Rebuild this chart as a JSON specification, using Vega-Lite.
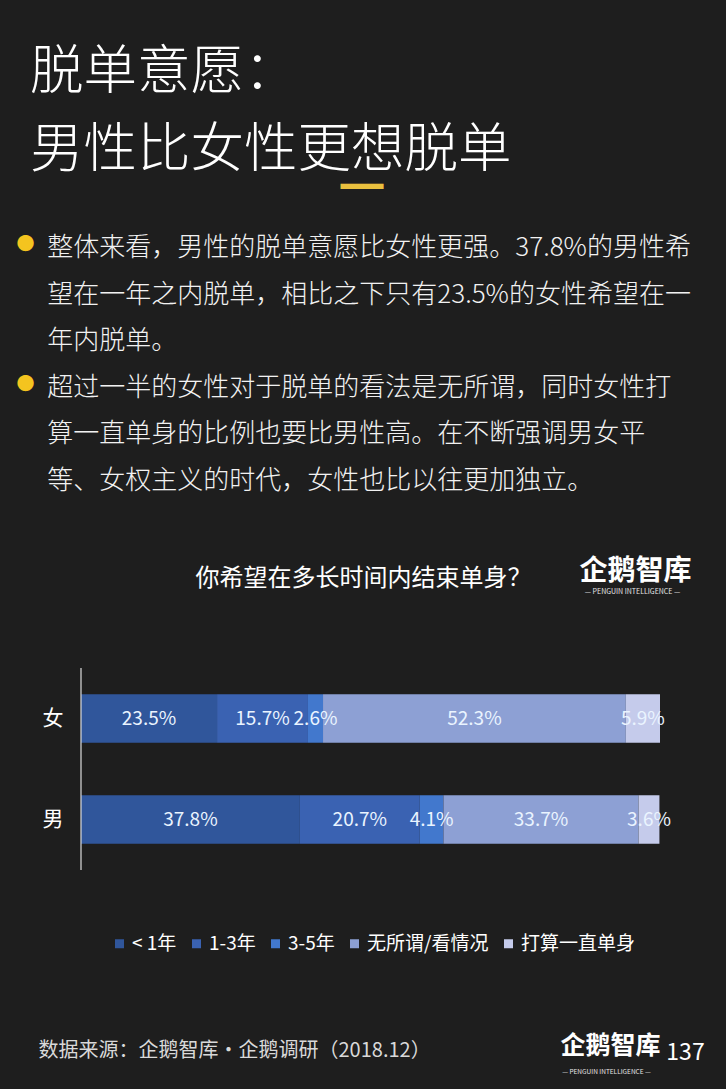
{
  "$schema": "https://vega.github.io/schema/vega-lite/v6.json",
  "autosize": {"type": "none"},
  "width": 579,
  "height": 202,
  "padding": {"left": 81, "top": 668, "right": 66, "bottom": 219},
  "background": "#1e1e1e",
  "config": {
    "view": {"stroke": null},
    "font": "Noto Sans CJK SC",
    "axis": {"grid": false, "labels": false, "ticks": false, "domain": false, "titleFont": "Noto Sans CJK SC", "titleFontWeight": "normal", "titleAngle": 0, "titleBaseline": "middle"}
  },
  "title": {
    "text": ["脱单意愿：", "男性比女性更想脱单"],
    "subtitle": [
      "\u200b\u2002\u2006整体来看，男性的脱单意愿比女性更强。37.8%的男性希",
      "\u200b\u2002\u2006望在一年之内脱单，相比之下只有23.5%的女性希望在一",
      "\u200b\u2002\u2006年内脱单。",
      "\u200b\u2002\u2006超过一半的女性对于脱单的看法是无所谓，同时女性打",
      "\u200b\u2002\u2006算一直单身的比例也要比男性高。在不断强调男女平",
      "\u200b\u2002\u2006等、女权主义的时代，女性也比以往更加独立。"
    ],
    "orient": "top",
    "anchor": "start",
    "frame": "group",
    "dx": -51,
    "offset": -327,
    "font": "Noto Sans CJK SC",
    "fontSize": 53.5,
    "fontWeight": 300,
    "color": "#ffffff",
    "lineHeight": 78,
    "subtitleFont": "Noto Sans CJK SC",
    "subtitleFontSize": 26,
    "subtitleFontWeight": 300,
    "subtitleLineHeight": 46.6,
    "subtitleColor": "#f2f2f2",
    "subtitlePadding": 57
  },
  "data": {
    "values": [
      {"gender": "女", "category": "< 1年", "rank": 1, "value": 23.5, "label": "23.5%"},
      {"gender": "女", "category": "1-3年", "rank": 2, "value": 15.7, "label": "15.7%"},
      {"gender": "女", "category": "3-5年", "rank": 3, "value": 2.6, "label": "2.6%"},
      {"gender": "女", "category": "无所谓/看情况", "rank": 4, "value": 52.3, "label": "52.3%"},
      {"gender": "女", "category": "打算一直单身", "rank": 5, "value": 5.9, "label": "5.9%"},
      {"gender": "男", "category": "< 1年", "rank": 1, "value": 37.8, "label": "37.8%"},
      {"gender": "男", "category": "1-3年", "rank": 2, "value": 20.7, "label": "20.7%"},
      {"gender": "男", "category": "3-5年", "rank": 3, "value": 4.1, "label": "4.1%"},
      {"gender": "男", "category": "无所谓/看情况", "rank": 4, "value": 33.7, "label": "33.7%"},
      {"gender": "男", "category": "打算一直单身", "rank": 5, "value": 3.6, "label": "3.6%"}
    ]
  },
  "resolve": {"axis": {"x": "independent", "y": "independent"}},
  "layer": [
    {
      "transform": [{"filter": "datum.gender == '女'"}],
      "mark": {"type": "bar"},
      "encoding": {
        "y": {
          "field": "gender",
          "type": "nominal",
          "sort": ["女", "男"],
          "scale": {"domain": ["女", "男"], "paddingInner": 0.52, "paddingOuter": 0.26},
          "axis": {
            "orient": "left",
            "labels": true,
            "labelColor": "#ffffff",
            "labelFontSize": 21,
            "labelPadding": 18,
            "labelFont": "Noto Sans CJK SC",
            "title": "你希望在多长时间内结束单身？",
            "titleX": 282,
            "titleY": -90,
            "titleAlign": "center",
            "titleFontSize": 24,
            "titleColor": "#ffffff"
          }
        },
        "x": {
          "field": "value",
          "type": "quantitative",
          "stack": "zero",
          "scale": {"domain": [0, 100], "nice": false, "zero": true},
          "axis": {
            "orient": "bottom",
            "title": "数据来源：企鹅智库·企鹅调研（2018.12）",
            "titleX": -43,
            "titleY": 180,
            "titleAlign": "left",
            "titleFontSize": 20,
            "titleColor": "#d9d9d9"
          }
        },
        "order": {"field": "rank", "type": "quantitative"},
        "color": {
          "field": "category",
          "type": "nominal",
          "sort": ["< 1年", "1-3年", "3-5年", "无所谓/看情况", "打算一直单身"],
          "scale": {
            "domain": ["< 1年", "1-3年", "3-5年", "无所谓/看情况", "打算一直单身"],
            "range": ["#30569b", "#3a62b2", "#4278cd", "#8da0d4", "#c5cbeb"]
          },
          "legend": {
            "orient": "none",
            "legendX": 29,
            "legendY": 266,
            "direction": "horizontal",
            "title": null,
            "symbolType": "square",
            "symbolSize": 81,
            "symbolStrokeWidth": 0,
            "symbolOpacity": 1,
            "labelFontSize": 19,
            "labelColor": "#ffffff",
            "labelFont": "Noto Sans CJK SC",
            "labelOffset": 3,
            "columnPadding": 10
          }
        }
      }
    },
    {
      "transform": [{"filter": "datum.gender == '男'"}],
      "mark": {"type": "bar"},
      "encoding": {
        "y": {
          "field": "gender",
          "type": "nominal",
          "sort": ["女", "男"],
          "axis": {
            "orient": "right",
            "title": ["●", "\u200b", "\u200b", "●"],
            "titleX": -635,
            "titleY": -424,
            "titleAlign": "center",
            "titleFontSize": 18,
            "titleLineHeight": 46.67,
            "titleColor": "#f4c41f"
          }
        },
        "x": {
          "field": "value",
          "type": "quantitative",
          "stack": "zero",
          "axis": {
            "orient": "top",
            "title": "企鹅智库",
            "titleX": 554,
            "titleY": -97,
            "titleAlign": "center",
            "titleFontSize": 28,
            "titleFontWeight": "bold",
            "titleColor": "#ffffff"
          }
        },
        "order": {"field": "rank", "type": "quantitative"},
        "color": {"field": "category", "type": "nominal", "sort": ["< 1年", "1-3年", "3-5年", "无所谓/看情况", "打算一直单身"]}
      }
    },
    {
      "transform": [{"filter": "datum.gender == '女'"}],
      "mark": {"type": "text", "baseline": "middle", "align": "center", "fontSize": 19, "color": "#eaf4ff", "font": "Noto Sans CJK SC"},
      "encoding": {
        "y": {
          "field": "gender",
          "type": "nominal",
          "sort": ["女", "男"],
          "axis": {
            "orient": "left",
            "title": "━",
            "titleX": 280.5,
            "titleY": -479,
            "titleAlign": "center",
            "titleFontSize": 43,
            "titleColor": "#e9c03e"
          }
        },
        "x": {
          "field": "value",
          "type": "quantitative",
          "stack": "zero",
          "bandPosition": 0.5,
          "axis": {
            "orient": "bottom",
            "title": "企鹅智库",
            "titleX": 479,
            "titleY": 175,
            "titleAlign": "left",
            "titleFontSize": 25,
            "titleFontWeight": "bold",
            "titleColor": "#ffffff"
          }
        },
        "order": {"field": "rank", "type": "quantitative"},
        "text": {"field": "label", "type": "nominal"}
      }
    },
    {
      "transform": [{"filter": "datum.gender == '男'"}],
      "mark": {"type": "text", "baseline": "middle", "align": "center", "fontSize": 19, "color": "#eaf4ff", "font": "Noto Sans CJK SC"},
      "encoding": {
        "y": {
          "field": "gender",
          "type": "nominal",
          "sort": ["女", "男"],
          "axis": {
            "orient": "right",
            "title": "137",
            "titleX": 25,
            "titleY": 384,
            "titleAlign": "center",
            "titleFontSize": 23,
            "titleColor": "#ffffff"
          }
        },
        "x": {
          "field": "value",
          "type": "quantitative",
          "stack": "zero",
          "bandPosition": 0.5,
          "axis": {
            "orient": "top",
            "title": "— PENGUIN INTELLIGENCE —",
            "titleX": 551,
            "titleY": -77,
            "titleAlign": "center",
            "titleFontSize": 7,
            "titleColor": "#e6e6e6"
          }
        },
        "order": {"field": "rank", "type": "quantitative"},
        "text": {"field": "label", "type": "nominal"}
      }
    },
    {
      "transform": [{"filter": "datum.rank == 1 && datum.gender == '女'"}],
      "mark": {"type": "rule", "color": "#dcdcdc", "strokeWidth": 1.2},
      "encoding": {
        "x": {
          "datum": 0,
          "type": "quantitative",
          "axis": {
            "orient": "bottom",
            "title": "— PENGUIN INTELLIGENCE —",
            "titleX": 525,
            "titleY": 201,
            "titleAlign": "center",
            "titleFontSize": 6.5,
            "titleColor": "#e6e6e6"
          }
        }
      }
    }
  ]
}
